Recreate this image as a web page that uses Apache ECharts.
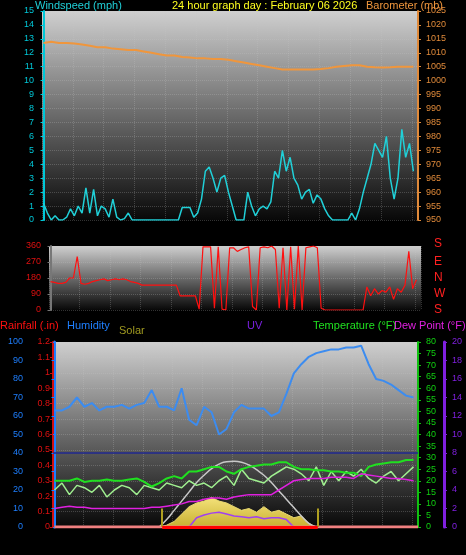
<!DOCTYPE html>
<html><head><meta charset="utf-8">
<script src="https://cdn.jsdelivr.net/npm/echarts@6/dist/echarts.min.js"></script>
<style>html,body{margin:0;background:#000}#c{width:466px;height:555px}</style></head>
<body><div id="c"></div><script>
// quarter-hour series (0..24h)
const windSpeed=[1.2,0.5,0,0.3, 0,0,0.2,0.8, 0.3,1,0.5,2.3, 0.5,2.2,0.3,1, 0.8,0.2,1.5,0.2, 0,0.1,0.5,0,
 0,0,0,0,0,0,0,0,0,0,0,0,
 0.9,0.9,0.9,0.2, 0.5,1.5,3.5,3.8, 3,2,3,3.2,
 2,1,0,0, 0,2,1,0.3, 0.8,1,0.8,1.3,
 3.5,3,5,3.5, 4.5,3,2.5,1.5, 2,2.2,1.2,1.8,
 1.5,0.8,0.3,0, 0,0,0,0, 0.5,0,0.8,2,
 3,4,5.5,5, 4.5,6,3,1.5, 3,6.5,4.5,5.5, 3.5];
const windDir=[160,155,150,150, 155,180,180,300, 150,145,150,160, 165,170,175,165, 170,175,170,175, 170,160,155,150,
 140,140,140,140, 140,140,140,140, 140,140,80,80,
 80,80,80,5, 355,355,355,10, 355,5,0,350,
 350,330,340,350, 355,20,0,350, 355,350,360,340,
 10,350,0,355, 5,360,0,350, 355,360,350,10,
 0,0,0,0, 0,0,0,0, 0,0,0,130,
 80,120,90,110, 100,130,60,120, 100,140,330,120, 170];
// half-hour series (0..24h)
const barometer=[1013.5,1014,1013.5,1013.5,1013.3,1013,1012.5,1012,1012,1011.5,1011.3,1011,1011,1010.5,1010,1009.5,1009,1009,1008.5,1008.3,1008,1008,1007.8,1007.8,1007.5,1007,1006.5,1006,1005.5,1005,1004.5,1004,1004,1004,1004,1004,1004.2,1004.5,1005,1005.3,1005.5,1005.5,1005,1004.8,1004.7,1004.8,1005,1005,1005];
const humidity=[63,63,65,70,65,67,63,65,65,66,64,66,67,74,65,65,63,75,58,55,65,62,50,53,62,66,64,64,64,60,62,72,83,88,92,94,95,96,96,97,97,98,88,80,79,77,74,71,70];
const temperature=[20,20,20,21,19.5,20,20,20.5,20,20,20.5,21,19.5,17.5,19,21,22,21,24,24,25,26,26,24,23,25,26,26.5,27,27,28,28,26,25,25,24.5,24.5,24,24,23.5,23.5,22,26,27,27.5,28,28,29,29];
const apparentTemp=[16,19,14,18,17,15,18,13,16,18,17,14,18,17,16,19,18,17,20,18,19,17,20,22,18,25,21,20,19,22,24,26,25,23,20,26,18,24,20,24,22,25,21,19,22,24,20,23,26];
const dewPoint=[8,8.5,9,8.5,8.5,8,8,8,8,8,8,8,8,8.5,8.5,9,9.5,10,11,11,12,12.5,12.5,12,13,13.5,14,14,14,14,16,18,20,20.5,21,21,21,21.5,21.5,21.5,21,23,22.5,22,21.5,21,21,20.5,20];
// daylight series, half-hour from 7h to 17.5h (percent of panel height)
const solar=[0,1,3,7,11,13,14,16,14,13,11,9,10,8,11,8,9,7,5,6,2,0];
const solarMax=[0,4,9,14,19,24,28,31.5,34,35.3,35.5,35,33.5,31,28,24,19.5,15,10.5,6,2,0];
// UV half-hour from 9h to 16h
const uv=[0,1,1.3,1.5,1.6,1.4,1.2,1.1,1.0,1.1,0.9,1.0,1.0,0.8,0];
const hourTicks=[2,4,6,8,10,12,14,16,18,20,22,24];

const q=a=>a.map((v,i)=>[i*0.25,v]);
const h=(a,s)=>a.map((v,i)=>[s+i*0.5,v]);
const fmt=v=>{let x=v%24;let s=(x%12===0?12:x%12)+(x<12?' AM':' PM');return x===0?'0 AM':s;};
const bg={type:'linear',x:0,y:0,x2:0,y2:1,colorStops:[{offset:0,color:'#cfcfcf'},{offset:0.5,color:'#6a6a6a'},{offset:1,color:'#080808'}]};
const split={show:true,lineStyle:{color:'rgba(200,200,200,0.25)',type:'dotted'}};
const xa=(gi,lab,min,max)=>({type:'value',gridIndex:gi,min:min,max:max,interval:2,
  axisLabel:{show:lab,color:'#ddd',fontSize:9,formatter:v=>hourTicks.includes(v)?fmt(v):''},
  axisLine:{show:false},axisTick:{show:false},splitLine:split});
const ya=(gi,o)=>Object.assign({type:'value',gridIndex:gi,axisLine:{show:true,lineStyle:{width:2}},axisTick:{show:true,length:3},splitLine:{show:false},axisLabel:{fontSize:9}},o);
const chart=echarts.init(document.getElementById('c'));
chart.setOption({
 backgroundColor:'#000',animation:false,
 grid:[{left:42,right:48,top:11,bottom:335,show:true,backgroundColor:bg,borderWidth:0},
       {left:49,right:45,top:246,bottom:245,show:true,backgroundColor:bg,borderWidth:0},
       {left:53,right:48,top:342,bottom:28,show:true,backgroundColor:bg,borderWidth:0}],
 xAxis:[xa(0,true,-0.1,24.3),xa(1,false,-0.1,24.3),xa(2,true,-0.1,24.3)],
 yAxis:[
  ya(0,{min:0,max:15,interval:1,position:'left',axisLine:{show:true,lineStyle:{color:'#00c8d8',width:2}},axisLabel:{color:'#00c8d8',fontSize:9},splitLine:split}),
  ya(0,{min:950,max:1025,interval:5,position:'right',axisLine:{show:true,lineStyle:{color:'#e08a3a',width:2}},axisLabel:{color:'#e08a3a',fontSize:9,formatter:v=>String(v)}}),
  ya(1,{min:0,max:360,interval:90,position:'left',axisLine:{show:true,lineStyle:{color:'#777',width:2}},axisLabel:{color:'#e01010',fontSize:9},splitLine:split}),
  ya(2,{min:0,max:100,interval:10,position:'left',offset:22,axisLine:{show:true,lineStyle:{color:'#1e7fff',width:3}},axisLabel:{color:'#1e7fff',fontSize:9}}),
  ya(2,{min:0,max:1.2,interval:0.1,position:'left',offset:0,axisLine:{show:true,lineStyle:{color:'#d01010',width:2}},axisLabel:{color:'#e01010',fontSize:9,margin:3,formatter:v=>String(+v.toFixed(1))},splitLine:split}),
  ya(2,{min:0,max:80,interval:5,position:'right',offset:0,axisLine:{show:true,lineStyle:{color:'#10c010',width:2}},axisLabel:{color:'#10d010',fontSize:9}}),
  ya(2,{min:0,max:20,interval:2,position:'right',offset:26,axisLine:{show:true,lineStyle:{color:'#8020e0',width:3}},axisLabel:{color:'#8020e0',fontSize:9}}),
  ya(2,{min:0,max:100,show:false})
 ],
 series:[
  {type:'line',xAxisIndex:0,yAxisIndex:1,data:h(barometer,0),showSymbol:false,lineStyle:{color:'#f0963c',width:2}},
  {type:'line',xAxisIndex:0,yAxisIndex:0,data:q(windSpeed),showSymbol:false,lineStyle:{color:'#20d0d8',width:1.5}},
  {type:'line',xAxisIndex:1,yAxisIndex:2,data:q(windDir),showSymbol:false,lineStyle:{color:'#ff1010',width:1.2}},
  {type:'line',xAxisIndex:2,yAxisIndex:7,data:h(solar,7),showSymbol:false,lineStyle:{color:'#e8d870',width:1},areaStyle:{color:{type:'linear',x:0,y:0,x2:0,y2:1,colorStops:[{offset:0,color:'#f4e27a'},{offset:1,color:'#c8b030'}]},opacity:1},
   markLine:{symbol:'none',silent:true,label:{show:false},lineStyle:{color:'#b0a020',width:2,type:'solid'},data:[[{coord:[7.2,0]},{coord:[7.2,10]}],[{coord:[17.6,0]},{coord:[17.6,10]}]]}},
  {type:'line',xAxisIndex:2,yAxisIndex:7,data:h(solarMax,7),showSymbol:false,smooth:true,lineStyle:{color:'#c8c8c8',width:1.5}},
  {type:'line',xAxisIndex:2,yAxisIndex:6,data:h(uv,9),showSymbol:false,lineStyle:{color:'#a040f0',width:1.5}},
  {type:'line',xAxisIndex:2,yAxisIndex:5,data:h(apparentTemp,0),showSymbol:false,lineStyle:{color:'#a0f090',width:1.5}},
  {type:'line',xAxisIndex:2,yAxisIndex:5,data:h(temperature,0),showSymbol:false,lineStyle:{color:'#20e020',width:2},
   markLine:{symbol:'none',silent:true,label:{show:false},lineStyle:{color:'#202890',width:1.5,type:'solid'},data:[{yAxis:32}]}},
  {type:'line',xAxisIndex:2,yAxisIndex:5,data:h(dewPoint,0),showSymbol:false,lineStyle:{color:'#e020e0',width:1.5}},
  {type:'line',xAxisIndex:2,yAxisIndex:3,data:h(humidity,0),showSymbol:false,lineStyle:{color:'#3c8cf0',width:2}},
  {type:'line',xAxisIndex:2,yAxisIndex:4,data:[[0,0],[24.3,0]],showSymbol:false,lineStyle:{color:'#f08080',width:3},
   markLine:{symbol:'none',silent:true,label:{show:false},lineStyle:{color:'#ff0000',width:3,type:'solid'},data:[[{coord:[7.2,0]},{coord:[17.6,0]}]]}}
 ],
 graphic:[
  {type:'text',left:35,top:0,style:{text:'Windspeed (mph)',fill:'#20d0d8',font:'11px Liberation Sans'}},
  {type:'text',left:172,top:0,style:{text:'24 hour graph day : February 06 2026',fill:'#ffff20',font:'11px Liberation Sans'}},
  {type:'text',right:23,top:0,style:{text:'Barometer (mb)',fill:'#f0963c',font:'11px Liberation Sans'}},
  ...['S','E','N','W','S'].map((t,i)=>({type:'text',left:434,top:[238,256,272,288,304][i],style:{text:t,fill:'#ff2020',font:'12px Liberation Sans'}})),
  {type:'text',left:0,top:320,style:{text:'Rainfall (.in)',fill:'#ff1010',font:'11px Liberation Sans'}},
  {type:'text',left:67,top:320,style:{text:'Humidity',fill:'#1e7fff',font:'11px Liberation Sans'}},
  {type:'text',left:119,top:325,style:{text:'Solar',fill:'#a09a20',font:'11px Liberation Sans'}},
  {type:'text',left:247,top:320,style:{text:'UV',fill:'#7a20e0',font:'11px Liberation Sans'}},
  {type:'text',left:313,top:320,style:{text:'Temperature (°F)',fill:'#20e020',font:'11px Liberation Sans'}},
  {type:'text',left:394,top:320,style:{text:'Dew Point (°F)',fill:'#e020e0',font:'11px Liberation Sans'}}
 ]
});
</script></body></html>
